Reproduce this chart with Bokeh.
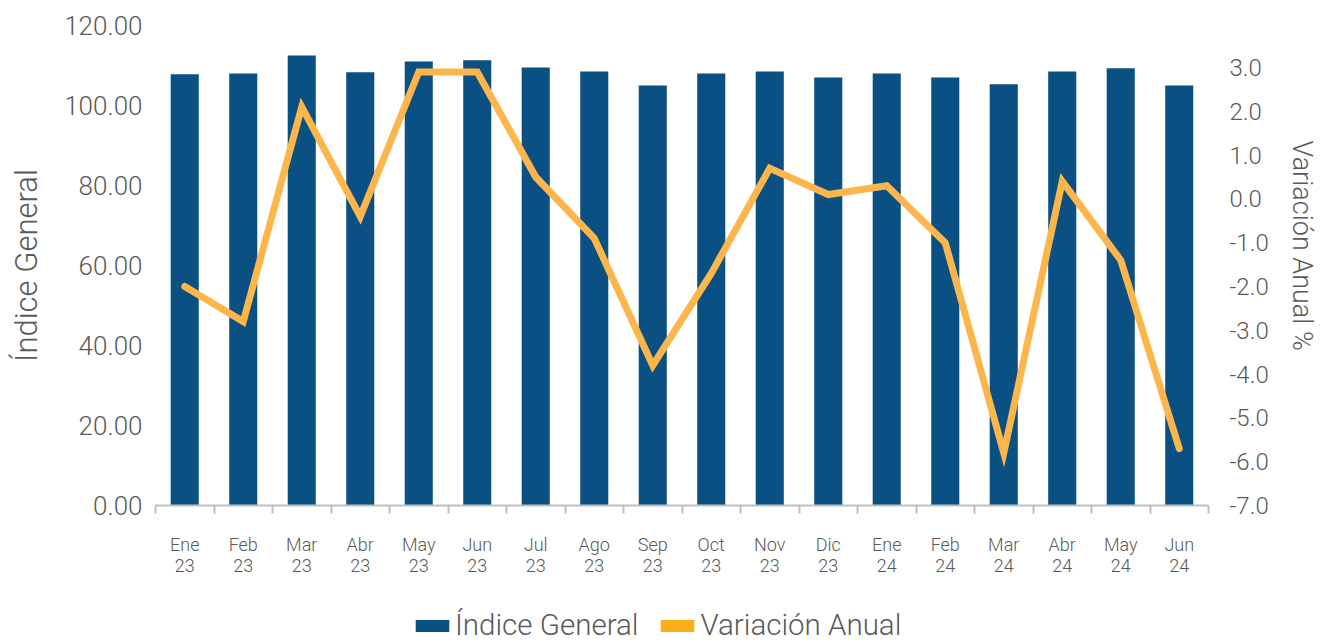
from bokeh.plotting import figure
from bokeh.layouts import column
from bokeh.models import (Range1d, LinearAxis, FixedTicker, NumeralTickFormatter,
                          ColumnDataSource, Legend, LegendItem)
from bokeh.embed import file_html
from bokeh.resources import INLINE

# ---- data ----
meses = ["Ene", "Feb", "Mar", "Abr", "May", "Jun", "Jul", "Ago", "Sep", "Oct", "Nov", "Dic",
         "Ene", "Feb", "Mar", "Abr", "May", "Jun"]
anios = ["23"] * 12 + ["24"] * 6
indice_general = [107.8, 108.0, 112.5, 108.3, 111.0, 111.3, 109.5, 108.5, 105.0, 108.0,
                  108.5, 107.0, 108.0, 107.0, 105.3, 108.5, 109.3, 105.0]
variacion_anual = [-2.0, -2.8, 2.1, -0.4, 2.9, 2.9, 0.5, -0.9, -3.8, -1.7,
                   0.7, 0.1, 0.3, -1.0, -5.8, 0.4, -1.4, -5.7]
ticks_izq = [0, 20, 40, 60, 80, 100, 120]
ticks_der = [-7, -6, -5, -4, -3, -2, -1, 0, 1, 2, 3]
series = ["Índice General", "Variación Anual"]

etiquetas = [f"{m}\n{a}" for m, a in zip(meses, anios)]
pos = list(range(len(meses)))

GRIS = "#595959"
AZUL = "#0A5082"
NARANJA = "#FDB64C"
NARANJA_LEY = "#F9AE1A"
FONT = "Roboto Light"
NBSP = "\u00a0"

src = ColumnDataSource(dict(x=pos, indice=indice_general, var=variacion_anual))

p = figure(width=1320, height=600, output_backend="svg", toolbar_location=None,
           x_range=Range1d(-0.5, len(meses) - 0.5), y_range=Range1d(0, 120),
           min_border_left=155, min_border_right=112, min_border_top=25, min_border_bottom=95)
p.extra_y_ranges = {"var": Range1d(-7, 3.96)}
p.outline_line_color = None
p.xgrid.visible = False
p.ygrid.visible = False

bars = p.vbar(x="x", top="indice", bottom=0, width=0.48, source=src,
              fill_color=AZUL, line_color=None)
ln = p.line(x="x", y="var", source=src, y_range_name="var", line_color=NARANJA,
            line_width=7, line_cap="round", line_join="miter")

# x axis
xa = p.xaxis[0]
xa.ticker = FixedTicker(ticks=pos, minor_ticks=[i - 0.5 for i in range(len(meses) + 1)])
xa.major_label_overrides = {i: lab for i, lab in zip(pos, etiquetas)}
xa.axis_line_color = "#BFBFBF"
xa.axis_line_width = 2
xa.major_tick_out = 0
xa.major_tick_in = 0
xa.minor_tick_out = 8
xa.minor_tick_in = 0
xa.minor_tick_line_color = "#BFBFBF"
xa.minor_tick_line_width = 2
xa.major_label_text_font = FONT
xa.major_label_text_font_size = "18px"
xa.major_label_text_line_height = 1.0
xa.major_label_text_color = GRIS
xa.major_label_standoff = 20

# left axis
ya = p.yaxis[0]
ya.ticker = FixedTicker(ticks=ticks_izq)
ya.formatter = NumeralTickFormatter(format="0.00")
ya.axis_line_color = None
ya.major_tick_line_color = None
ya.minor_tick_line_color = None
ya.major_label_text_font = FONT
ya.major_label_text_font_size = "26px"
ya.major_label_text_color = GRIS
ya.major_label_standoff = 7
ya.axis_label = "Índice General"
ya.axis_label_text_font = FONT
ya.axis_label_text_font_size = "31px"
ya.axis_label_text_font_style = "normal"
ya.axis_label_text_color = GRIS
ya.axis_label_standoff = 16

# right axis
ra = LinearAxis(y_range_name="var", ticker=FixedTicker(ticks=ticks_der),
                formatter=NumeralTickFormatter(format="0.0"))
ra.axis_line_color = None
ra.major_tick_line_color = None
ra.minor_tick_line_color = None
ra.major_label_text_font = FONT
ra.major_label_text_font_size = "24px"
ra.major_label_text_color = GRIS
ra.major_label_standoff = 15
ra.axis_label = "Variación Anual %" + NBSP * 6
ra.axis_label_text_font = FONT
ra.axis_label_text_font_size = "27px"
ra.axis_label_text_font_style = "normal"
ra.axis_label_text_color = GRIS
ra.axis_label_standoff = 14
p.add_layout(ra, "right")

# legend strip
q = figure(width=1320, height=42, output_backend="svg", toolbar_location=None,
           x_range=Range1d(0, 1), y_range=Range1d(0, 1), min_border=0,
           x_axis_type=None, y_axis_type=None)
q.outline_line_color = None
q.xgrid.visible = False
q.ygrid.visible = False
ley_src = ColumnDataSource(dict(x=[0.5], top=[0.0]))
ley_azul = q.vbar(x="x", top="top", bottom=0, width=0, source=ley_src,
                  fill_color=AZUL, line_color=None)
ley_nar = q.vbar(x="x", top="top", bottom=0, width=0, source=ley_src,
                 fill_color=NARANJA_LEY, line_color=None)
legend = Legend(items=[LegendItem(label=series[0], renderers=[ley_azul]),
                       LegendItem(label=series[1], renderers=[ley_nar])],
                orientation="horizontal", location=(256, 0),
                glyph_width=42, glyph_height=15, label_standoff=2, spacing=18,
                padding=0, margin=0, border_line_color=None, background_fill_alpha=0,
                label_text_font=FONT, label_text_font_size="29.5px", label_text_color=GRIS)
q.add_layout(legend)

open("out.html", "w").write(file_html(column(p, q, spacing=0), INLINE))
